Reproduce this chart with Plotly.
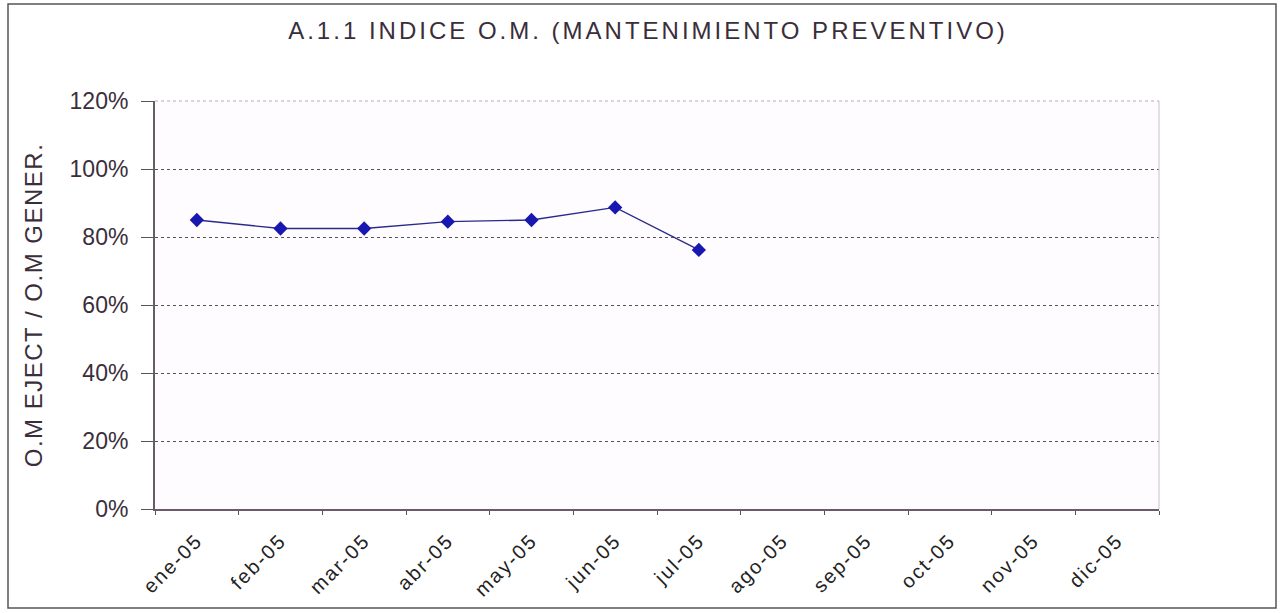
import plotly.graph_objects as go

# Monthly preventive maintenance index (executed orders / generated orders)
meses = ["ene-05", "feb-05", "mar-05", "abr-05", "may-05", "jun-05",
         "jul-05", "ago-05", "sep-05", "oct-05", "nov-05", "dic-05"]
indice = [0.85, 0.825, 0.825, 0.845, 0.85, 0.887, 0.762,
          None, None, None, None, None]
ticks_y = [0, 0.2, 0.4, 0.6, 0.8, 1.0, 1.2]
ticks_y_txt = ["0%", "20%", "40%", "60%", "80%", "100%", "120%"]

FONT = "Liberation Sans, Arial, sans-serif"
TXT = "#3a2e3a"
W, H = 1281, 613
L, R, T, B = 155, 122, 101, 104


def spaced(s, px):
    return f'<span style="letter-spacing:{px}px">{s}</span>'


fig = go.Figure()
fig.add_trace(go.Scatter(
    x=meses, y=indice, mode="lines+markers",
    line=dict(color="#2a2a8c", width=1.3),
    marker=dict(symbol="diamond", size=11, color="#1818b0"),
    connectgaps=False, showlegend=False,
))

pw = W - L - R
ph = H - T - B
# Outer chart frame
fig.add_shape(type="rect", xref="paper", yref="paper",
              x0=(8 - L) / pw, x1=(W - 5 - L) / pw,
              y0=-(H - 5 - (H - B)) / ph, y1=((H - B) - 4) / ph,
              line=dict(color="#555555", width=1.5), fillcolor="rgba(0,0,0,0)",
              layer="below")
# Light right edge and top edge of plot area
fig.add_shape(type="line", xref="paper", yref="paper", x0=1, x1=1, y0=0, y1=1,
              line=dict(color="#c8c0c8", width=1))
fig.add_shape(type="line", xref="paper", yref="paper", x0=0, x1=1, y0=1, y1=1,
              line=dict(color="#b8aab8", width=1, dash="dot"))

fig.update_layout(
    width=W, height=H,
    margin=dict(l=L, r=R, t=T, b=B),
    paper_bgcolor="white", plot_bgcolor="#fefcfe",
    title=dict(text=spaced("A.1.1 INDICE O.M. (MANTENIMIENTO PREVENTIVO)", 3),
               x=648 / W, xanchor="center", y=1 - 31 / H, yanchor="middle",
               font=dict(family=FONT, size=24, color=TXT)),
    font=dict(family=FONT, color=TXT),
)
fig.update_xaxes(
    type="category", categoryorder="array", categoryarray=meses,
    range=[-0.5, 11.5], tickson="boundaries",
    tickvals=meses, ticktext=[spaced(m, 2) for m in meses],
    ticks="outside", ticklen=4, tickcolor="#555555",
    ticklabelstandoff=10,
    showline=True, linecolor="#6a5a6a", linewidth=2,
    showgrid=False, tickangle=-45,
    tickfont=dict(family=FONT, size=20, color="#222222"),
)
fig.update_yaxes(
    range=[0, 1.2], tickvals=ticks_y, ticktext=ticks_y_txt,
    ticks="outside", ticklen=12, tickcolor="#555555",
    ticklabelstandoff=8,
    showline=True, linecolor="#6a5a6a", linewidth=2,
    showgrid=True, gridcolor="#555555", griddash="dot", gridwidth=1,
    zeroline=False,
    tickfont=dict(family=FONT, size=23, color=TXT),
    title=dict(text=spaced("O.M EJECT / O.M GENER.", 1.5), standoff=20,
               font=dict(family=FONT, size=24, color=TXT)),
)

fig.write_html("out.html")
